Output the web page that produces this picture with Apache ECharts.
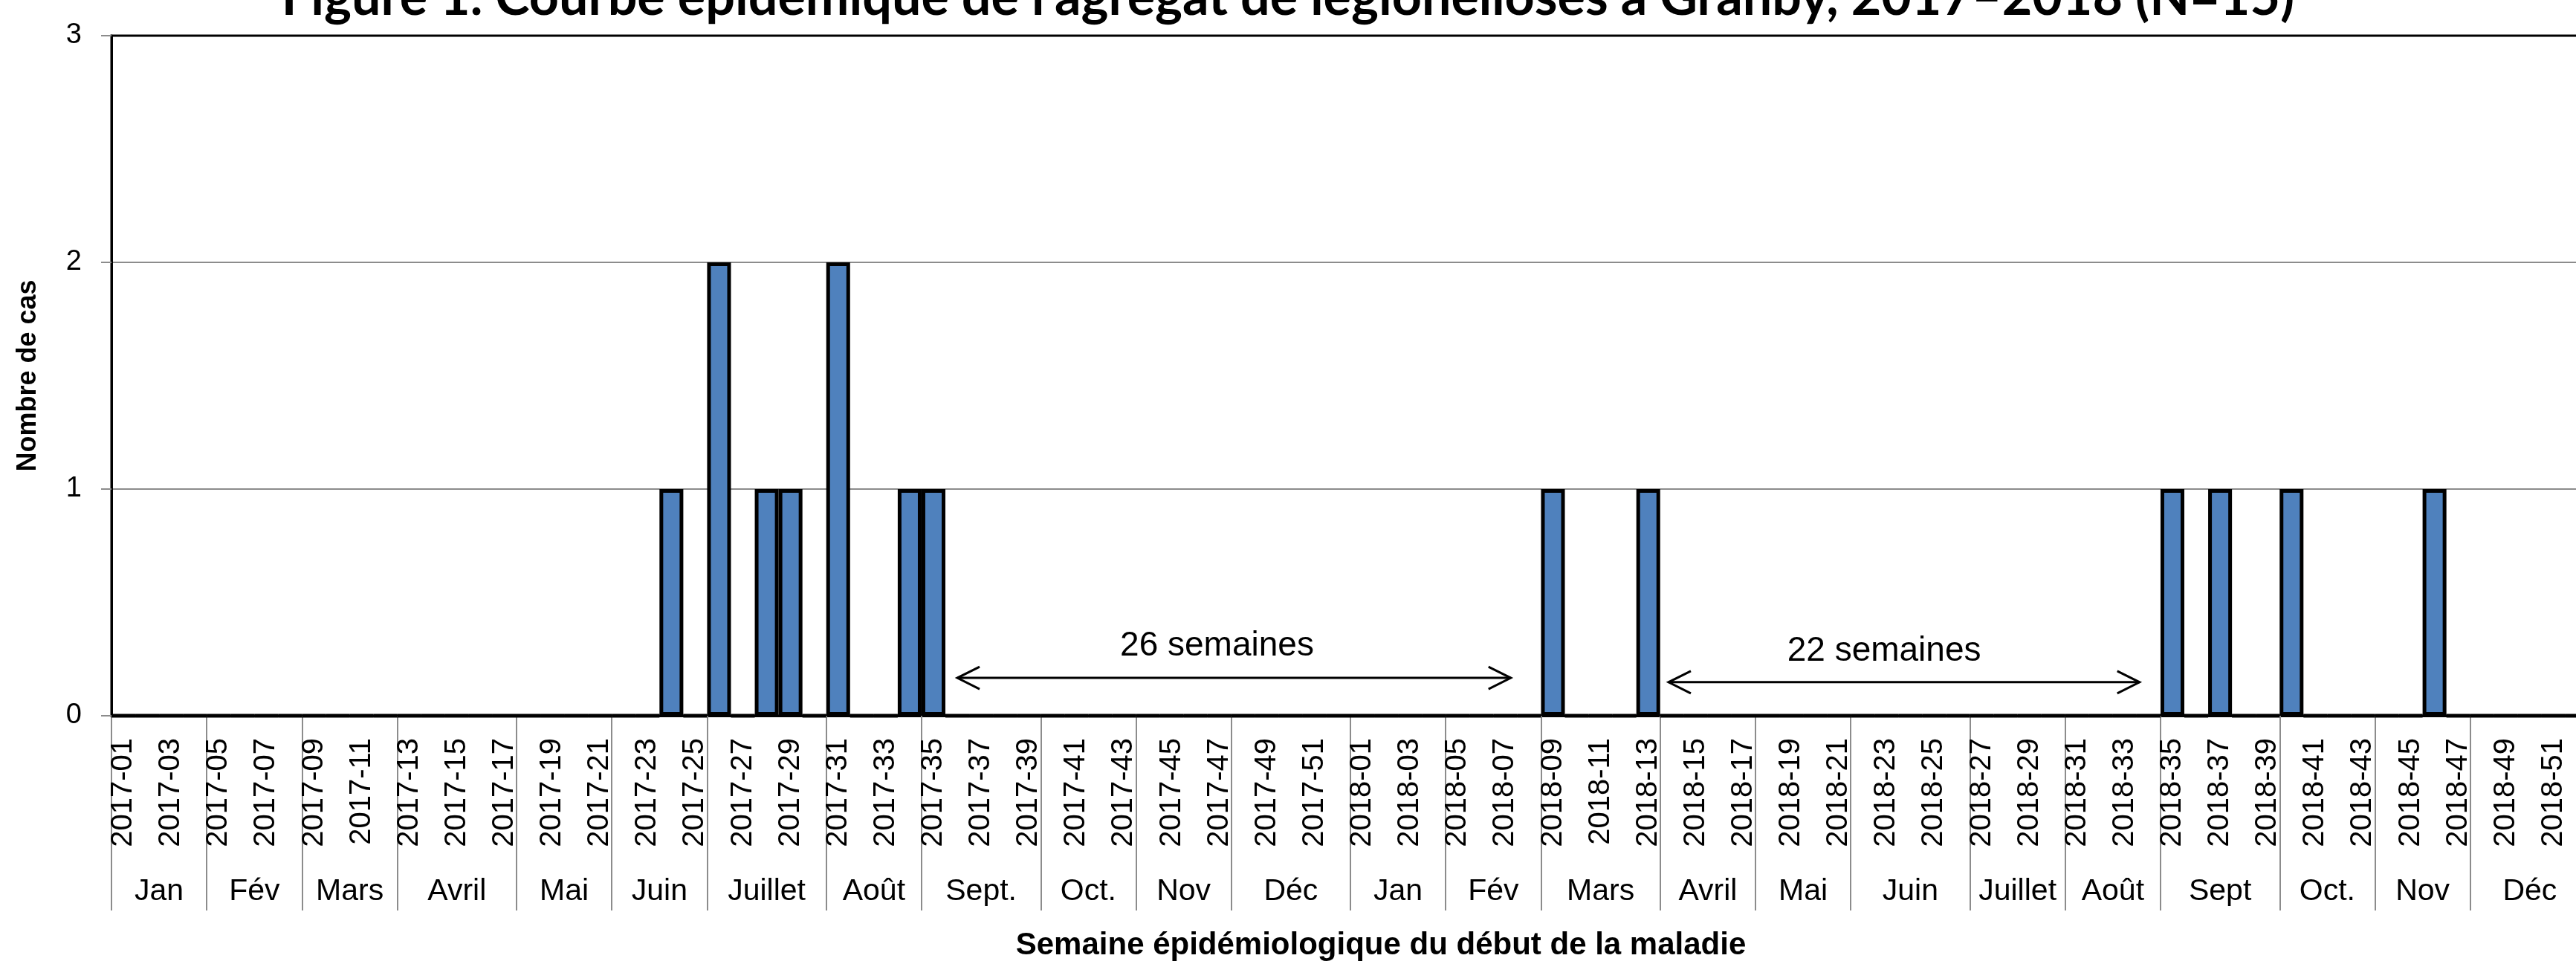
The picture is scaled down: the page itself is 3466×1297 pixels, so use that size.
<!DOCTYPE html>
<html>
<head>
<meta charset="utf-8">
<script src="https://cdn.jsdelivr.net/npm/echarts@6/dist/echarts.min.js"></script>
<style>
html, body { margin: 0; padding: 0; background: #fff; }
#main { width: 3466px; height: 1297px; }
</style>
</head>
<body>
<div id="main"></div>
<script>
// semaines 2017-01 .. 2018-52
const years = [2017, 2018];
const weeksPerYear = 52;
const weeks = [];
years.forEach(function (y) {
    for (let w = 1; w <= weeksPerYear; w++) {
        weeks.push(y + '-' + (w < 10 ? '0' + w : w));
    }
});

// cas par semaine (N=15)
const caseWeeks = ['2017-24', '2017-26', '2017-28', '2017-29', '2017-31', '2017-34', '2017-35',
    '2018-09', '2018-13', '2018-35', '2018-37', '2018-40', '2018-46'];
const caseCounts = [1, 2, 1, 1, 2, 1, 1, 1, 1, 1, 1, 1, 1];

// mois et nombre de semaines par mois
const monthNames = ['Jan', 'Fév', 'Mars', 'Avril', 'Mai', 'Juin', 'Juillet', 'Août', 'Sept.', 'Oct.', 'Nov', 'Déc',
    'Jan', 'Fév', 'Mars', 'Avril', 'Mai', 'Juin', 'Juillet', 'Août', 'Sept', 'Oct.', 'Nov', 'Déc'];
const monthWeeks = [4, 4, 4, 5, 4, 4, 5, 4, 5, 4, 4, 5,
    4, 4, 5, 4, 4, 5, 4, 4, 5, 4, 4, 5];

const yTicks = [0, 1, 2, 3];

// intervalles sans cas (position en semaines)
const gapFrom = [35.0, 64.85];
const gapTo = [58.23, 84.62];
const gapLevel = [0.167, 0.148];
const gapTextPos = [45.9, 73.9];
const gapTextLevel = [0.308, 0.285];
const gapText = ['26 semaines', '22 semaines'];

const caseData = weeks.map(function (w) {
    const i = caseWeeks.indexOf(w);
    return i >= 0 ? caseCounts[i] : 0;
});

const monthBounds = [0];
const monthCenters = [];
monthWeeks.forEach(function (n, i) {
    monthCenters.push(monthBounds[i] + n / 2);
    monthBounds.push(monthBounds[i] + n);
});

const FONT = '"Liberation Sans", Arial, sans-serif';

let myChart = echarts.init(document.getElementById('main'));
myChart.setOption({
    animation: false,
    backgroundColor: '#fff',
    title: {
        text: "Figure 1. Courbe épidémique de l'agrégat de légionelloses à Granby, 2017–2018 (N=15)",
        left: 'center',
        top: -38,
        padding: [0, 0, 0, 112],
        textStyle: { fontFamily: 'Lato', fontWeight: 'bold', fontSize: 70, color: '#000' }
    },
    grid: {
        left: 150, right: -18, top: 48, bottom: 334,
        containLabel: false,
        outerBoundsMode: 'none',
        show: true, borderColor: '#000', borderWidth: 3
    },
    xAxis: [
        {
            type: 'category',
            data: weeks,
            boundaryGap: true,
            axisLine: { show: true, lineStyle: { color: '#000', width: 3 } },
            axisTick: { show: false },
            axisLabel: {
                interval: 1, rotate: 90, margin: 30,
                fontFamily: FONT, fontSize: 40, color: '#000'
            },
            splitLine: { show: false },
            name: 'Semaine épidémiologique du début de la maladie',
            nameLocation: 'middle',
            nameGap: 288,
            nameTextStyle: {
                fontFamily: FONT, fontWeight: 'bold', fontSize: 42, color: '#000',
                padding: [0, 0, 0, 82]
            }
        },
        {
            type: 'value',
            min: 0, max: monthBounds[monthBounds.length - 1],
            position: 'bottom',
            axisLine: { show: false },
            splitLine: { show: false },
            axisTick: {
                show: true, length: 262, customValues: monthBounds,
                lineStyle: { color: '#8c8c8c', width: 2 }
            },
            axisLabel: {
                customValues: monthCenters, margin: 216,
                fontFamily: FONT, fontSize: 41, color: '#000',
                formatter: function (v) { return monthNames[monthCenters.indexOf(v)]; }
            }
        }
    ],
    yAxis: {
        type: 'value',
        min: yTicks[0], max: yTicks[yTicks.length - 1], interval: 1,
        axisLine: { show: true, lineStyle: { color: '#000', width: 3 } },
        axisTick: { show: true, length: 14, lineStyle: { color: '#8c8c8c', width: 2 } },
        axisLabel: { margin: 40, fontFamily: FONT, fontSize: 38, color: '#000' },
        splitLine: {
            show: true,
            lineStyle: { color: ['#8c8c8c', '#8c8c8c', '#8c8c8c', '#000'], width: 2 }
        },
        name: 'Nombre de cas',
        nameLocation: 'middle',
        nameGap: 94,
        nameTextStyle: { fontFamily: FONT, fontWeight: 'bold', fontSize: 36, color: '#000' }
    },
    series: [
        {
            type: 'bar',
            data: caseData,
            barWidth: '100%',
            barGap: '0%',
            itemStyle: { color: '#4F81BD', borderColor: '#000', borderWidth: 5 },
            z: 3
        },
        {
            type: 'custom',
            data: gapFrom.map(function (v, i) { return [v, gapLevel[i]]; }),
            z: 4,
            silent: true,
            renderItem: function (params, api) {
                const i = params.dataIndex;
                const band = api.size([1, 0])[0];
                function px(v) {
                    const k = Math.floor(v);
                    return api.coord([k, 0])[0] + (v - k) * band;
                }
                const x1 = px(gapFrom[i]);
                const x2 = px(gapTo[i]);
                const y = api.coord([0, gapLevel[i]])[1];
                const ty = api.coord([0, gapTextLevel[i]])[1];
                const line = { stroke: '#000', lineWidth: 3, fill: null };
                return {
                    type: 'group',
                    children: [
                        { type: 'line', shape: { x1: x1, y1: y, x2: x2, y2: y }, style: line },
                        { type: 'polyline', shape: { points: [[x1 + 30, y - 15], [x1, y], [x1 + 30, y + 15]] }, style: line },
                        { type: 'polyline', shape: { points: [[x2 - 30, y - 15], [x2, y], [x2 - 30, y + 15]] }, style: line },
                        {
                            type: 'text', x: px(gapTextPos[i]), y: ty,
                            style: {
                                text: gapText[i], fill: '#000',
                                font: '46px ' + FONT, align: 'center', verticalAlign: 'middle'
                            }
                        }
                    ]
                };
            }
        }
    ]
});
</script>
</body>
</html>
